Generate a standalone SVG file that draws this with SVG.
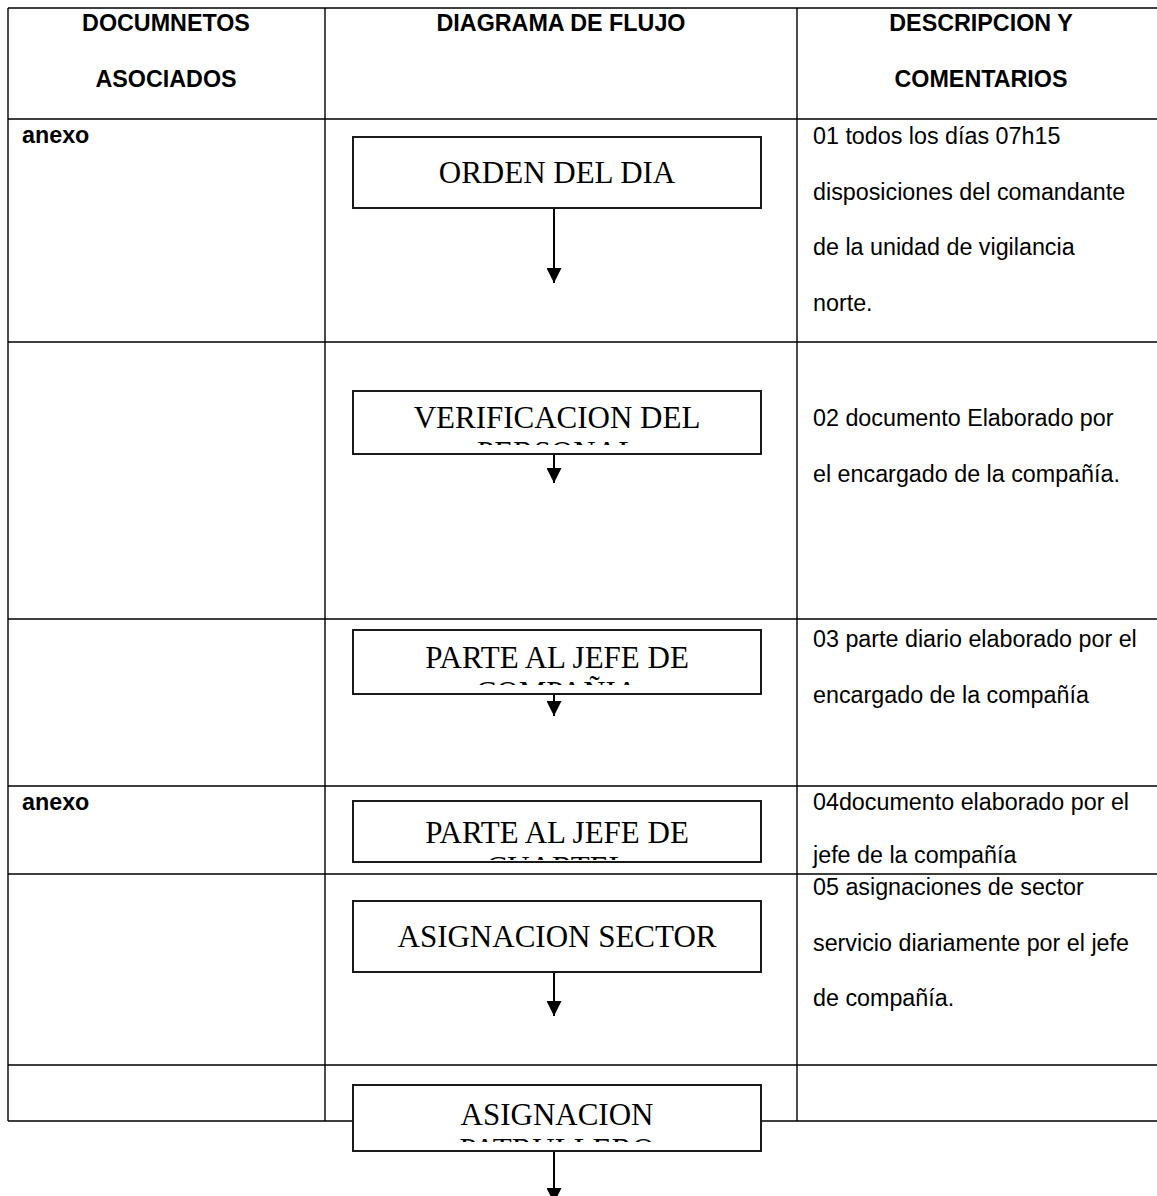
<svg xmlns="http://www.w3.org/2000/svg" width="1157" height="1196" viewBox="0 0 1157 1196">
  <style>
    .grid{stroke:#000;stroke-width:1.4;fill:none}
    .box{fill:#fff;stroke:#1a1a1a;stroke-width:2}
    .bt{font-family:"Liberation Serif","Times New Roman",serif;font-size:31px;fill:#000;text-anchor:middle}
    .hd{font-family:"Liberation Sans",Arial,sans-serif;font-size:23.3px;font-weight:bold;fill:#000;text-anchor:middle}
    .doc{font-family:"Liberation Sans",Arial,sans-serif;font-size:23.3px;font-weight:bold;fill:#000}
    .tx{font-family:"Liberation Sans",Arial,sans-serif;font-size:23.3px;fill:#000}
    .arrow{stroke:#000;stroke-width:2;fill:none}
  </style>
  <defs>
    <marker id="head" markerUnits="userSpaceOnUse" markerWidth="15" markerHeight="15" refX="15" refY="7.5" orient="auto">
      <path d="M0,0 L15,7.5 L0,15 Z" fill="#000"/>
    </marker>
    <clipPath id="c2"><rect x="353" y="391" width="408" height="54"/></clipPath>
    <clipPath id="c3"><rect x="353" y="630" width="408" height="55"/></clipPath>
    <clipPath id="c4"><rect x="353" y="801" width="408" height="59"/></clipPath>
    <clipPath id="c6"><rect x="353" y="1085" width="408" height="57"/></clipPath>
  </defs>

  <!-- table grid -->
  <g id="table">
    <path class="grid" d="M8,8 H1157 M8,119 H1157 M8,342 H1157 M8,619 H1157 M8,786 H1157 M8,874 H1157 M8,1065 H1157 M8,1121 H1157"/>
    <path class="grid" d="M8,8 V1121 M325,8 V1121 M797,8 V1121"/>
  </g>

  <!-- header -->
  <g id="header">
    <text class="hd" x="166" y="31">DOCUMNETOS</text>
    <text class="hd" x="166" y="87">ASOCIADOS</text>
    <text class="hd" x="561" y="31">DIAGRAMA DE FLUJO</text>
    <text class="hd" x="981" y="31">DESCRIPCION Y</text>
    <text class="hd" x="981" y="87">COMENTARIOS</text>
  </g>

  <!-- associated documents column -->
  <g id="docs">
    <text class="doc" x="22" y="143">anexo</text>
    <text class="doc" x="22" y="810">anexo</text>
  </g>

  <!-- description column -->
  <g id="descriptions" class="tx">
    <text x="813" y="144">01 todos los días 07h15</text>
    <text x="813" y="199.5">disposiciones del comandante</text>
    <text x="813" y="255">de la unidad de vigilancia</text>
    <text x="813" y="310.5">norte.</text>
    <text x="813" y="426">02 documento Elaborado por</text>
    <text x="813" y="481.5">el encargado de la compañía.</text>
    <text x="813" y="647">03 parte diario elaborado por el</text>
    <text x="813" y="702.5">encargado de la compañía</text>
    <text x="813" y="810">04documento elaborado por el</text>
    <text x="813" y="863">jefe de la compañía</text>
    <text x="813" y="895">05 asignaciones de sector</text>
    <text x="813" y="950.5">servicio diariamente por el jefe</text>
    <text x="813" y="1006">de compañía.</text>
  </g>

  <!-- flow connectors -->
  <g id="connectors">
    <line class="arrow" x1="554" y1="208" x2="554" y2="283" marker-end="url(#head)"/>
    <line class="arrow" x1="554" y1="454" x2="554" y2="483" marker-end="url(#head)"/>
    <line class="arrow" x1="554" y1="694" x2="554" y2="716" marker-end="url(#head)"/>
    <line class="arrow" x1="554" y1="972" x2="554" y2="1016" marker-end="url(#head)"/>
    <line class="arrow" x1="554" y1="1151" x2="554" y2="1203" marker-end="url(#head)"/>
  </g>

  <!-- flow nodes -->
  <g id="orden-del-dia">
    <rect class="box" x="353" y="137" width="408" height="71"/>
    <text class="bt" x="557" y="183">ORDEN DEL DIA</text>
  </g>
  <g id="verificacion-personal">
    <rect class="box" x="353" y="391" width="408" height="63"/>
    <g clip-path="url(#c2)">
      <text class="bt" x="557" y="428">VERIFICACION DEL</text>
      <text class="bt" x="557" y="462.5">PERSONAL</text>
    </g>
  </g>
  <g id="parte-jefe-compania">
    <rect class="box" x="353" y="630" width="408" height="64"/>
    <g clip-path="url(#c3)">
      <text class="bt" x="557" y="668">PARTE AL JEFE DE</text>
      <text class="bt" x="557" y="702.5">COMPAÑIA</text>
    </g>
  </g>
  <g id="parte-jefe-cuartel">
    <rect class="box" x="353" y="801" width="408" height="61"/>
    <g clip-path="url(#c4)">
      <text class="bt" x="557" y="843">PARTE AL JEFE DE</text>
      <text class="bt" x="557" y="877.5">CUARTEL</text>
    </g>
  </g>
  <g id="asignacion-sector">
    <rect class="box" x="353" y="901" width="408" height="71"/>
    <text class="bt" x="557" y="947">ASIGNACION SECTOR</text>
  </g>
  <g id="asignacion-patrullero">
    <rect class="box" x="353" y="1085" width="408" height="66"/>
    <g clip-path="url(#c6)">
      <text class="bt" x="557" y="1125">ASIGNACION</text>
      <text class="bt" x="557" y="1159.5">PATRULLERO</text>
    </g>
  </g>
</svg>
